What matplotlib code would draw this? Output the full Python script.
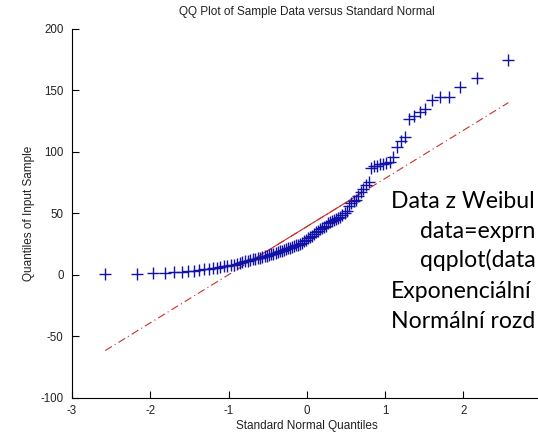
from statistics import NormalDist

import numpy as np
import matplotlib
matplotlib.use("Agg")
import matplotlib.pyplot as plt

# sorted sample values (100 points)
sample = [
    0.5, 1.2, 1.5, 2.0, 2.3, 2.6, 3.0, 3.4, 4.0, 4.5,
    5.0, 5.4, 5.8, 6.4, 7.0, 7.4, 8.0, 8.5, 9.2, 9.8,
    10.4, 11.0, 11.6, 12.2, 12.7, 13.2, 13.7, 14.2, 14.7, 15.2,
    15.7, 16.2, 16.8, 17.4, 18.0, 18.6, 19.2, 19.8, 20.4, 21.0,
    21.6, 22.2, 22.8, 23.4, 24.0, 24.6, 25.4, 26.4, 27.4, 28.6,
    30.0, 31.0, 32.0, 33.5, 35.0, 36.0, 37.0, 38.0, 39.0, 40.0,
    42.0, 43.0, 43.5, 44.5, 45.5, 46.5, 47.5, 48.5, 50.0, 52.0,
    56.0, 58.5, 60.0, 61.0, 64.0, 67.5, 70.0, 73.0, 76.0, 87.0,
    88.5, 89.0, 90.0, 90.5, 91.0, 92.0, 96.0, 104.0, 109.0, 112.0,
    127.0, 129.0, 132.5, 135.0, 142.0, 145.0, 145.0, 153.0, 160.0, 174.5,
]

# note pasted over the chart; the original is cut at the right edge,
# so only the visible part of each line is kept
note_lines = [
    "Data z Weibul",
    "data=exprn",
    "qqplot(data",
    "Exponenciální",
    "Normální rozd",
]
note_indent = [0, 1, 1, 0, 0]

y = np.sort(np.array(sample))
n = len(y)
x = np.array([NormalDist().inv_cdf((i - 0.5) / n) for i in range(1, n + 1)])

# reference line through the first and third quartiles (as qqplot does)
q1x, q3x = np.percentile(x, [25, 75], method="hazen")
q1y, q3y = np.percentile(y, [25, 75], method="hazen")
slope = (q3y - q1y) / (q3x - q1x)
icpt = q1y - slope * q1x

plt.rcParams["font.family"] = ["Liberation Sans", "DejaVu Sans"]
plt.rcParams["axes.unicode_minus"] = False

fig = plt.figure(figsize=(5.38, 4.36), dpi=100, facecolor="white")
ax = fig.add_axes([0.1338, 0.0872, 0.873, 0.8463])

line_col = "#c8302c"
xe = np.array([x.min(), x.max()])
ax.plot(xe, icpt + slope * xe, color=line_col, lw=0.8,
        linestyle=(0, (7, 3, 1, 3)), zorder=2)
xq = np.array([q1x, q3x])
ax.plot(xq, icpt + slope * xq, color=line_col, lw=0.8, zorder=2)

ax.plot(x, y, "+", color="#1212a8", markersize=8, markeredgewidth=1.0,
        zorder=3)

ax.set_xlim(-3, 3)
ax.set_ylim(-100, 200)
ax.set_xticks(range(-3, 4))
ax.set_yticks(range(-100, 201, 50))

ax.spines["top"].set_visible(False)
ax.spines["right"].set_visible(False)
ax.spines["left"].set_linewidth(0.8)
ax.spines["bottom"].set_linewidth(0.8)
ax.tick_params(direction="in", length=5, width=0.8, labelsize=8.3,
               labelcolor="#222222")
ax.tick_params(axis="y", pad=6)
ax.tick_params(axis="x", pad=5)

ax.set_title("QQ Plot of Sample Data versus Standard Normal",
             fontsize=8.5, color="#222222", pad=10)
ax.set_xlabel("Standard Normal Quantiles", fontsize=8.5, color="#222222",
              labelpad=2)
ax.set_ylabel("Quantiles of Input Sample", fontsize=8.5, color="#222222",
              labelpad=4)

base_y = [208, 238, 267, 298, 328]
for txt, ind, by in zip(note_lines, note_indent, base_y):
    fig.text((391 + 29 * ind) / 538, 1 - by / 436, txt, family="Lato",
             fontsize=16.6, color="black", ha="left", va="baseline",
             zorder=5)

fig.savefig("out.png", dpi=100)
